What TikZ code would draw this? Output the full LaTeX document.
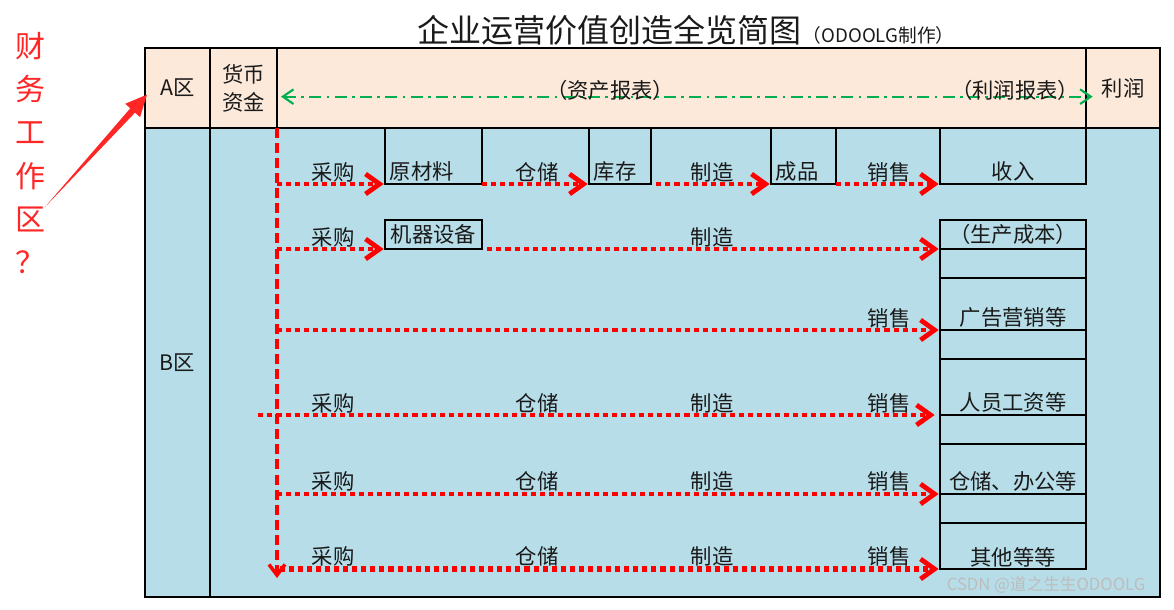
\documentclass[tikz,border=0pt]{standalone}
\usepackage{fontspec}
\setmainfont{Noto Sans CJK SC}
\usepackage{xcolor}
\usepackage{tikz}
\usetikzlibrary{calc,positioning,arrows.meta}
\definecolor{HeadPeach}{HTML}{FCE9DA}
\definecolor{ZoneBlue}{HTML}{B7DDE8}
\definecolor{FlowRed}{HTML}{FF0000}
\definecolor{LedgerGreen}{HTML}{00B050}
\definecolor{WarnRed}{HTML}{FF2626}
\definecolor{InkText}{HTML}{1A1A1A}
\definecolor{MarkGray}{HTML}{BDBDBD}
\tikzset{
    cellbox/.style={draw=black, line width=1.5pt, inner sep=0pt, outer sep=0pt},
    lbl/.style={text=InkText, inner sep=0pt, font=\fontsize{16pt}{19pt}\selectfont},
    flow/.style={draw=FlowRed, line width=3.3pt, dash pattern=on 3.8pt off 3pt,
        -{Straight Barb[length=10.5pt,width=15pt,line width=3.6pt]}, shorten >=1pt},
    trunkline/.style={draw=FlowRed, line width=2.4pt, dash pattern=on 7.5pt off 3.8pt,
        -{Straight Barb[length=8pt,width=12pt,line width=2.6pt]}},
    ledgerline/.style={draw=LedgerGreen, line width=1.6pt,
        dash pattern=on 9pt off 4pt on 2pt off 4pt,
        {Straight Barb[length=8pt,width=11pt,line width=1.6pt]}-{Straight Barb[length=8pt,width=11pt,line width=1.6pt]}}
}
% box from (x1,y1) to (x2,y2), pixel grid
\newcommand{\cellat}[6][]{%
    \node[cellbox,#1,
        minimum width={(#5-#3)*0.75pt},
        minimum height={(#6-#4)*0.75pt}
    ] (#2) at ({(#3+#5)/2},{(#4+#6)/2}) {};%
}

\begin{document}
\begin{tikzpicture}[x=0.75pt, y=-0.75pt]
    \useasboundingbox (0,0) rectangle (1174,610);

    % zones
    \cellat[fill=HeadPeach]{zoneA}{145}{48}{210}{128}
    \cellat[fill=HeadPeach]{cash}{210}{48}{277}{128}
    \cellat[fill=HeadPeach]{ledger}{277}{48}{1086}{128}
    \cellat[fill=HeadPeach]{profit}{1086}{48}{1160}{128}
    \cellat[fill=ZoneBlue]{zoneB}{145}{128}{210}{597}
    \cellat[fill=ZoneBlue]{work}{210}{128}{1160}{597}

    % boxes
    \cellat{raw}{385}{128}{482}{184}
    \cellat{stock}{589}{128}{651}{184}
    \cellat{goods}{771}{128}{836}{184}
    \cellat{income}{940}{128}{1086}{184}
    \cellat{machine}{385}{220}{482}{249}
    \foreach \n/\a/\b in {cost/220/249, costgap/249/278, ad/278/330, adgap/330/359,
        wage/359/415, wagegap/415/444, office/444/494, officegap/494/523, other/523/569}
        {\cellat{\n}{940}{\a}{1086}{\b}}

    % money trunk and flows
    \coordinate (trunktop) at (277,128);
    \coordinate (trunkend) at (277,578);
    \draw[trunkline] (trunktop) -- (trunkend);

    \draw[flow] (trunktop |- raw.south) -- (raw.south west);
    \draw[flow] (raw.south east) -- (stock.south west);
    \draw[flow, shorten <=4pt] (stock.south east) -- (goods.south west);
    \draw[flow] (goods.south east) -- (income.south west);
    \draw[flow] (trunktop |- machine.south) -- (machine.south west);
    \draw[flow, shorten <=4pt] (machine.south east) -- (cost.south west);
    \draw[flow] (trunktop |- ad.south) -- (ad.south west);
    \draw[flow, shorten >=4pt] ([xshift=-14pt]trunktop |- wage.south) -- (wage.south west);
    \draw[flow] (trunktop |- office.south) -- (office.south west);
    \draw[flow, line width=3.8pt] ([xshift=2pt]trunktop |- other.south) -- (other.south west);

    \draw[ledgerline] ([xshift=3pt,yshift=-6.5pt]cash.east) -- ([xshift=5pt,yshift=-6.5pt]profit.west);

    % header texts
    \node[lbl] (zoneAtxt) at (zoneA) {A区};
    \node[lbl, align=center, font=\fontsize{16pt}{21pt}\selectfont] (cashtxt) at (cash) {货币\\资金};
    \node[lbl] (profittxt) at (profit) {利润};
    \node[lbl] (zoneBtxt) at (zoneB) {B区};
    \node[lbl] (assettxt) at (610,90) {（资产报表）};
    \node[lbl] (incometxt) at (1015,90) {（利润报表）};

    % box texts
    \node[lbl, above right=2pt and 3.5pt of raw.south west] (rawtxt) {原材料};
    \node[lbl, above right=2pt and 3.5pt of stock.south west] (stocktxt) {库存};
    \node[lbl, above right=2pt and 3.5pt of goods.south west] (goodstxt) {成品};
    \node[lbl, above=2pt of income.south] (incomebox) {收入};
    \node[lbl] (machinetxt) at (machine) {机器设备};
    \node[lbl] (costtxt) at (cost) {（生产成本）};
    \node[lbl, above=1.5pt of ad.south] (adtxt) {广告营销等};
    \node[lbl, above=1.5pt of wage.south] (wagetxt) {人员工资等};
    \node[lbl, above=1.5pt of office.south] (officetxt) {仓储、办公等};
    \node[lbl, above=1.5pt of other.south] (othertxt) {其他等等};

    % flow labels
    \foreach \x/\t in {333/采购, 537/仓储, 712/制造, 889/销售}
        \node[lbl] (r1-\x) at (\x,172) {\t};
    \node[lbl] (r2-buy) at (333,237) {采购};
    \node[lbl] (r2-make) at (712,237) {制造};
    \node[lbl] (r3-sell) at (889,318) {销售};
    \foreach \y in {403, 481, 556}
        \foreach \x/\t in {333/采购, 537/仓储, 712/制造, 889/销售}
            \node[lbl] (r-\y-\x) at (\x,\y) {\t};

    % title
    \node[text=InkText, inner sep=0pt, font=\fontsize{24pt}{28pt}\selectfont] (title) at (609,30) {企业运营价值创造全览简图};
    \node[text=InkText, inner sep=0pt, anchor=base west, font=\fontsize{14pt}{16pt}\selectfont] (maker) at ([xshift=1pt]title.base east) {（ODOOLG制作）};

    % question on the left
    \node[text=WarnRed, inner sep=0pt, align=center, font=\fontsize{22.5pt}{32.4pt}\selectfont] (warn) at (30,153) {财\\务\\工\\作\\区\\？};
    \coordinate (wt) at (45,207);
    \coordinate (wh) at ([xshift=1.5pt,yshift=-5pt]zoneA.west);
    \coordinate (hb) at ($(wh)!16pt!(wt)$);
    \fill[WarnRed] (wt) -- ($(hb)!2.4pt!90:(wh)$) -- ($(hb)!7.5pt!90:(wh)$) -- (wh)
        -- ($(hb)!7.5pt!-90:(wh)$) -- ($(hb)!2.4pt!-90:(wh)$) -- cycle;

    \node[text=MarkGray, inner sep=0pt, font=\fontsize{12.5pt}{14pt}\selectfont] (mark) at (1046,585) {CSDN @道之生生ODOOLG};
\end{tikzpicture}
\end{document}
